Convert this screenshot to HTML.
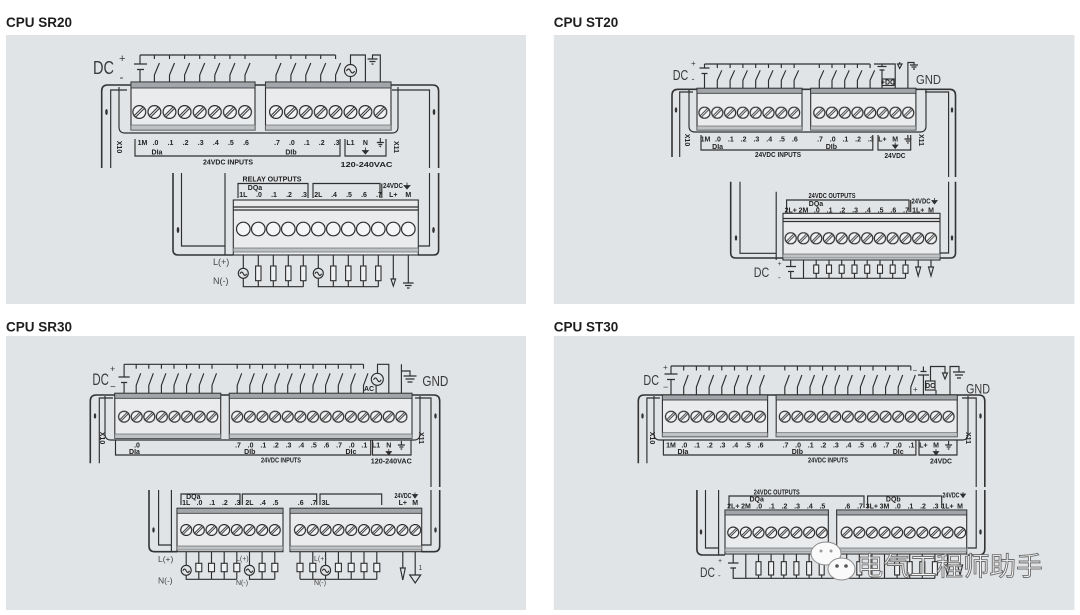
<!DOCTYPE html>
<html><head><meta charset="utf-8"><style>
html,body{margin:0;padding:0;background:#fff;width:1080px;height:615px;overflow:hidden}
svg{display:block}
.ln{fill:none;stroke:#2e2e2e;stroke-width:1.15}
.hs{fill:none;stroke:#333;stroke-width:1.6}
.blk{fill:#e9ebed;stroke:#2e2e2e;stroke-width:1.1}
.band{fill:#a2a6aa;stroke:#2e2e2e;stroke-width:.8}
.bb{fill:#bfc2c5;stroke:#555;stroke-width:.6}
.lb{font-family:"Liberation Sans",sans-serif;font-weight:bold;font-size:7px;text-anchor:middle;fill:#222}
.tt{font-family:"Liberation Sans",sans-serif;font-weight:bold;font-size:13.5px;fill:#1e1e1e}
.big{font-family:"Liberation Sans",sans-serif;fill:#3a3a3a}
.sm{font-family:"Liberation Sans",sans-serif;fill:#444}
.fl{fill:#2e2e2e;stroke:#2e2e2e;stroke-width:.8}
.rs{fill:#eef0f1;stroke:#2e2e2e;stroke-width:1.1}
.mk{fill:#333}
</style></head><body>
<svg width="1080" height="615" viewBox="0 0 1080 615" xmlns="http://www.w3.org/2000/svg">
<defs>
<pattern id="a1" patternUnits="userSpaceOnUse" x="131.75" y="105" width="15.1" height="14"><g transform="translate(7.55,7)"><circle r="6.4" fill="#f2f3f4" stroke="#2a2a2a" stroke-width="1.2"/><path d="M-4.3,4.3L4.3,-4.3" stroke="#2a2a2a" stroke-width="3"/><path d="M-4.1,4.1L4.1,-4.1" stroke="#f2f3f4" stroke-width="1"/></g></pattern>
<pattern id="a2" patternUnits="userSpaceOnUse" x="268.55" y="105" width="14.9" height="14"><g transform="translate(7.45,7)"><circle r="6.4" fill="#f2f3f4" stroke="#2a2a2a" stroke-width="1.2"/><path d="M-4.3,4.3L4.3,-4.3" stroke="#2a2a2a" stroke-width="3"/><path d="M-4.1,4.1L4.1,-4.1" stroke="#f2f3f4" stroke-width="1"/></g></pattern>
<pattern id="b1" patternUnits="userSpaceOnUse" x="698.1" y="106.7" width="12.8" height="12"><g transform="translate(6.4,6)"><circle r="5.6" fill="#f2f3f4" stroke="#2a2a2a" stroke-width="1.15"/><path d="M-3.7,3.7L3.7,-3.7" stroke="#2a2a2a" stroke-width="2.7"/><path d="M-3.5,3.5L3.5,-3.5" stroke="#f2f3f4" stroke-width=".9"/></g></pattern>
<pattern id="b2" patternUnits="userSpaceOnUse" x="812.95" y="106.7" width="12.7" height="12"><g transform="translate(6.35,6)"><circle r="5.6" fill="#f2f3f4" stroke="#2a2a2a" stroke-width="1.15"/><path d="M-3.7,3.7L3.7,-3.7" stroke="#2a2a2a" stroke-width="2.7"/><path d="M-3.5,3.5L3.5,-3.5" stroke="#f2f3f4" stroke-width=".9"/></g></pattern>
<pattern id="b3" patternUnits="userSpaceOnUse" x="784.3" y="232.3" width="12.75" height="12"><g transform="translate(6.375,6)"><circle r="5.6" fill="#f2f3f4" stroke="#2a2a2a" stroke-width="1.15"/><path d="M-3.7,3.7L3.7,-3.7" stroke="#2a2a2a" stroke-width="2.7"/><path d="M-3.5,3.5L3.5,-3.5" stroke="#f2f3f4" stroke-width=".9"/></g></pattern>
<pattern id="c1" patternUnits="userSpaceOnUse" x="117.8" y="410.7" width="12.6" height="12"><g transform="translate(6.3,6)"><circle r="5.5" fill="#f2f3f4" stroke="#2a2a2a" stroke-width="1.15"/><path d="M-3.6,3.6L3.6,-3.6" stroke="#2a2a2a" stroke-width="2.7"/><path d="M-3.4,3.4L3.4,-3.4" stroke="#f2f3f4" stroke-width=".9"/></g></pattern>
<pattern id="c2" patternUnits="userSpaceOnUse" x="230.9" y="410.7" width="12.63" height="12"><g transform="translate(6.315,6)"><circle r="5.5" fill="#f2f3f4" stroke="#2a2a2a" stroke-width="1.15"/><path d="M-3.6,3.6L3.6,-3.6" stroke="#2a2a2a" stroke-width="2.7"/><path d="M-3.4,3.4L3.4,-3.4" stroke="#f2f3f4" stroke-width=".9"/></g></pattern>
<pattern id="c3" patternUnits="userSpaceOnUse" x="179.9" y="524" width="12.65" height="12"><g transform="translate(6.325,6)"><circle r="5.5" fill="#f2f3f4" stroke="#2a2a2a" stroke-width="1.15"/><path d="M-3.6,3.6L3.6,-3.6" stroke="#2a2a2a" stroke-width="2.7"/><path d="M-3.4,3.4L3.4,-3.4" stroke="#f2f3f4" stroke-width=".9"/></g></pattern>
<pattern id="c4" patternUnits="userSpaceOnUse" x="293.6" y="524" width="12.8" height="12"><g transform="translate(6.4,6)"><circle r="5.5" fill="#f2f3f4" stroke="#2a2a2a" stroke-width="1.15"/><path d="M-3.6,3.6L3.6,-3.6" stroke="#2a2a2a" stroke-width="2.7"/><path d="M-3.4,3.4L3.4,-3.4" stroke="#f2f3f4" stroke-width=".9"/></g></pattern>
<pattern id="d1" patternUnits="userSpaceOnUse" x="664.65" y="410.7" width="12.7" height="12"><g transform="translate(6.35,6)"><circle r="5.5" fill="#f2f3f4" stroke="#2a2a2a" stroke-width="1.15"/><path d="M-3.6,3.6L3.6,-3.6" stroke="#2a2a2a" stroke-width="2.7"/><path d="M-3.4,3.4L3.4,-3.4" stroke="#f2f3f4" stroke-width=".9"/></g></pattern>
<pattern id="d2" patternUnits="userSpaceOnUse" x="778.5" y="410.7" width="12.6" height="12"><g transform="translate(6.3,6)"><circle r="5.5" fill="#f2f3f4" stroke="#2a2a2a" stroke-width="1.15"/><path d="M-3.6,3.6L3.6,-3.6" stroke="#2a2a2a" stroke-width="2.7"/><path d="M-3.4,3.4L3.4,-3.4" stroke="#f2f3f4" stroke-width=".9"/></g></pattern>
<pattern id="d3" patternUnits="userSpaceOnUse" x="726.9" y="526.5" width="12.65" height="12"><g transform="translate(6.325,6)"><circle r="5.5" fill="#f2f3f4" stroke="#2a2a2a" stroke-width="1.15"/><path d="M-3.6,3.6L3.6,-3.6" stroke="#2a2a2a" stroke-width="2.7"/><path d="M-3.4,3.4L3.4,-3.4" stroke="#f2f3f4" stroke-width=".9"/></g></pattern>
<pattern id="d4" patternUnits="userSpaceOnUse" x="840.4" y="526.5" width="12.6" height="12"><g transform="translate(6.3,6)"><circle r="5.5" fill="#f2f3f4" stroke="#2a2a2a" stroke-width="1.15"/><path d="M-3.6,3.6L3.6,-3.6" stroke="#2a2a2a" stroke-width="2.7"/><path d="M-3.4,3.4L3.4,-3.4" stroke="#f2f3f4" stroke-width=".9"/></g></pattern>
</defs>

<!-- ================= CPU SR20 ================= -->
<text class="tt" x="6" y="27">CPU SR20</text>
<rect x="6" y="35" width="520" height="269" fill="#e1e4e7"/>
<path class="hs" d="M101.7,168V91Q101.7,85 107.7,85H432.6Q438.6,85 438.6,91V168"/>
<path class="ln" d="M110.7,168V90H127M429.5,168V90H392"/>
<path class="ln" d="M119,87V127Q119,133 125,133H392Q398,133 398,127V87"/>
<ellipse class="mk" cx="106.5" cy="112" rx="1.3" ry="3"/><ellipse class="mk" cx="434" cy="112" rx="1.3" ry="3"/>
<rect class="blk" x="131" y="82" width="124" height="48"/><rect class="band" x="131" y="82" width="124" height="6"/><rect class="bb" x="131" y="125" width="124" height="5"/>
<rect class="blk" x="265.5" y="82" width="125.5" height="48"/><rect class="band" x="265.5" y="82" width="125.5" height="6"/><rect class="bb" x="265.5" y="125" width="125.5" height="5"/>
<rect x="131.75" y="105" width="120.8" height="14" fill="url(#a1)"/>
<rect x="268.55" y="105" width="119.2" height="14" fill="url(#a2)"/>
<text class="big" x="93" y="74" font-size="18" textLength="21" lengthAdjust="spacingAndGlyphs">DC</text>
<text class="big" x="119" y="62" font-size="11">+</text>
<text class="big" x="119.5" y="81" font-size="12">-</text>
<path class="ln" d="M140,55V64M140,69.5V82" />
<path class="ln" stroke-width="1.5" d="M134,64H147M137,69.5H144"/>
<path class="ln" d="M140,55H335.6"/>
<path class="ln" d="M154.4,55v4M154.4,82v-7l5,-12M169.5,55v4M169.5,82v-7l5,-12M184.6,55v4M184.6,82v-7l5,-12M199.7,55v4M199.7,82v-7l5,-12M214.8,55v4M214.8,82v-7l5,-12M229.9,55v4M229.9,82v-7l5,-12M245,55v4M245,82v-7l5,-12M276,55v4M276,82v-7l5,-12M290.9,55v4M290.9,82v-7l5,-12M305.8,55v4M305.8,82v-7l5,-12M320.7,55v4M320.7,82v-7l5,-12M335.6,55v4M335.6,82v-7l5,-12"/>
<path class="ln" d="M350.5,82V76.5M350.5,64.5V55H365.4V82"/>
<circle class="ln" cx="350.5" cy="70.5" r="6"/>
<path class="ln" stroke-width=".8" d="M346.5,71q2,-4 4,0t4,0"/>
<path class="ln" d="M380.3,82V55H372.5V59M367.5,59H377.5M369.5,61.5H375.5M371.5,64H373.5"/>
<text class="lb" x="142.5" y="145">1M</text><text class="lb" x="155.5" y="145">.0</text><text class="lb" x="170.5" y="145">.1</text><text class="lb" x="185.6" y="145">.2</text><text class="lb" x="200.7" y="145">.3</text><text class="lb" x="215.8" y="145">.4</text><text class="lb" x="230.9" y="145">.5</text><text class="lb" x="246" y="145">.6</text>
<text class="lb" x="277" y="145">.7</text><text class="lb" x="291.9" y="145">.0</text><text class="lb" x="306.8" y="145">.1</text><text class="lb" x="321.7" y="145">.2</text><text class="lb" x="336.6" y="145">.3</text><text class="lb" x="350.5" y="145">L1</text><text class="lb" x="365.4" y="145">N</text>
<path class="ln" stroke-width="1.2" d="M380.3,138V142.5M376.8,142.5H383.8M378.3,144.5H382.3M379.5,146.5H381.1"/>
<text class="lb" x="157" y="154.5" font-size="6.5">DIa</text><text class="lb" x="291" y="154.5" font-size="6.5">DIb</text>
<path class="ln" d="M135,139V156H340V139M345,139V156H386V139"/>
<path class="fl" d="M365.4,147.5V150.5M362.4,150.5H368.4L365.4,154Z"/>
<text class="lb" x="228" y="164.5" textLength="50" lengthAdjust="spacingAndGlyphs">24VDC INPUTS</text>
<text class="lb" x="366.5" y="167" font-size="9.5" textLength="52" lengthAdjust="spacingAndGlyphs">120-240VAC</text>
<text class="lb" font-size="6.5" transform="translate(117,147) rotate(90)">X10</text>
<text class="lb" font-size="6.5" transform="translate(394,147) rotate(90)">X11</text>
<!-- lower -->
<path class="hs" d="M173,173V250Q173,255 178,255H233"/>
<path class="ln" d="M181.5,173V246H225M225,173V255"/>
<path class="hs" d="M438.6,173V250Q438.6,255 433.6,255H418"/>
<path class="ln" d="M429.5,173V246H418"/>
<ellipse class="mk" cx="178" cy="230" rx="1.3" ry="3"/><ellipse class="mk" cx="433.5" cy="230" rx="1.3" ry="3"/>
<rect class="blk" x="233.3" y="200" width="185" height="55"/>
<path class="ln" d="M233.3,207H418.3M233.3,210H418.3"/>
<rect class="bb" x="233.3" y="248" width="185" height="4"/>
<g fill="#f5f6f7" stroke="#2e2e2e" stroke-width="1.2">
<circle cx="243.3" cy="229" r="6.8"/><circle cx="258.3" cy="229" r="6.8"/><circle cx="273.3" cy="229" r="6.8"/><circle cx="288.3" cy="229" r="6.8"/><circle cx="303.3" cy="229" r="6.8"/><circle cx="318.3" cy="229" r="6.8"/><circle cx="333.3" cy="229" r="6.8"/><circle cx="348.3" cy="229" r="6.8"/><circle cx="363.3" cy="229" r="6.8"/><circle cx="378.3" cy="229" r="6.8"/><circle cx="393.3" cy="229" r="6.8"/><circle cx="408.3" cy="229" r="6.8"/>
</g>
<text class="lb" x="272" y="181.5" font-size="7.5" textLength="59" lengthAdjust="spacingAndGlyphs">RELAY OUTPUTS</text>
<path class="ln" d="M238,198V183.5H308V198M313,198V183.5H380V198M381.8,198V183.5"/>
<text class="lb" x="255" y="190" font-size="6.5">DQa</text>
<text class="lb" x="393" y="188" font-size="7" textLength="20" lengthAdjust="spacingAndGlyphs">24VDC</text>
<path class="fl" d="M407,182.5V185.5M404,185.5H410L407,189Z"/>
<text class="lb" x="243.3" y="197">1L</text><text class="lb" x="259" y="197">.0</text><text class="lb" x="274" y="197">.1</text><text class="lb" x="289" y="197">.2</text><text class="lb" x="304" y="197">.3</text><text class="lb" x="318.3" y="197">2L</text><text class="lb" x="334" y="197">.4</text><text class="lb" x="349" y="197">.5</text><text class="lb" x="364" y="197">.6</text><text class="lb" x="379" y="197">.7</text><text class="lb" x="393.3" y="197">L+</text><text class="lb" x="408.3" y="197">M</text>
<path class="ln" d="M243.3,255V268.3M243.3,278.3V286.7H303.3M258.3,255V266M258.3,280.7V286.7M273.3,255V266M273.3,280.7V286.7M288.3,255V266M288.3,280.7V286.7M303.3,255V266M303.3,280.7V286.7"/>
<path class="ln" d="M318.3,255V268.3M318.3,278.3V286.7H378.3M333.3,255V266M333.3,280.7V286.7M348.3,255V266M348.3,280.7V286.7M363.3,255V266M363.3,280.7V286.7M378.3,255V266M378.3,280.7V286.7"/>
<g class="rs"><rect x="255.6" y="266" width="5.4" height="14.7"/><rect x="270.6" y="266" width="5.4" height="14.7"/><rect x="285.6" y="266" width="5.4" height="14.7"/><rect x="300.6" y="266" width="5.4" height="14.7"/><rect x="330.6" y="266" width="5.4" height="14.7"/><rect x="345.6" y="266" width="5.4" height="14.7"/><rect x="360.6" y="266" width="5.4" height="14.7"/><rect x="375.6" y="266" width="5.4" height="14.7"/></g>
<circle class="ln" cx="243.3" cy="273.3" r="5"/><circle class="ln" cx="318.3" cy="273.3" r="5"/>
<path class="ln" stroke-width=".8" d="M240,273.8q1.6,-3.4 3.3,0t3.3,0M315,273.8q1.6,-3.4 3.3,0t3.3,0"/>
<path class="ln" d="M393.3,255V279M391,279H395.6L393.3,286ZM408.3,255V283M403,283H413.6M405,285.5H411.6M407,288H409.6"/>
<text class="sm" x="213" y="265" font-size="9">L(+)</text>
<text class="sm" x="213" y="284" font-size="9">N(-)</text>

<!-- ================= CPU ST20 ================= -->
<text class="tt" x="553.8" y="27">CPU ST20</text>
<rect x="553.8" y="35" width="520.7" height="269" fill="#e1e4e7"/>
<path class="hs" d="M672,157V95.3Q672,89.3 678,89.3H949.5Q955.5,89.3 955.5,95.3V177"/>
<path class="ln" d="M679.7,157V92H693M948.6,177V92H925"/>
<path class="ln" d="M689,90V126Q689,132 695,132H920Q926,132 926,126V90"/>
<ellipse class="mk" cx="676" cy="110" rx="1.2" ry="2.6"/><ellipse class="mk" cx="952" cy="110" rx="1.2" ry="2.6"/>
<rect class="blk" x="697" y="88.3" width="105" height="41.7"/><rect class="band" x="697" y="88.3" width="105" height="5"/><rect class="bb" x="697" y="126" width="105" height="4"/>
<rect class="blk" x="810.7" y="88.3" width="105.2" height="41.7"/><rect class="band" x="810.7" y="88.3" width="105.2" height="5"/><rect class="bb" x="810.7" y="126" width="105.2" height="4"/>
<rect x="698.1" y="106.7" width="102.4" height="12" fill="url(#b1)"/>
<rect x="812.95" y="106.7" width="101.6" height="12" fill="url(#b2)"/>
<text class="big" x="672.8" y="80" font-size="15" textLength="15.5" lengthAdjust="spacingAndGlyphs">DC</text>
<text class="big" x="691" y="66" font-size="8">+</text>
<text class="big" x="691.5" y="82" font-size="9">-</text>
<path class="ln" d="M704.5,64V68M704.5,73.5V88.3"/>
<path class="ln" stroke-width="1.4" d="M699.5,68H709.5M701.5,73.5H707.5"/>
<path class="ln" d="M704.5,64H870.1"/>
<path class="ln" d="M717.3,64v4M717.3,88.3v-8l4.5,-10M730.1,64v4M730.1,88.3v-8l4.5,-10M742.9,64v4M742.9,88.3v-8l4.5,-10M755.7,64v4M755.7,88.3v-8l4.5,-10M768.5,64v4M768.5,88.3v-8l4.5,-10M781.3,64v4M781.3,88.3v-8l4.5,-10M794.1,64v4M794.1,88.3v-8l4.5,-10M819.3,64v4M819.3,88.3v-8l4.5,-10M832,64v4M832,88.3v-8l4.5,-10M844.7,64v4M844.7,88.3v-8l4.5,-10M857.4,64v4M857.4,88.3v-8l4.5,-10M870.1,64v4M870.1,88.3v-8l4.5,-10"/>
<path class="ln" d="M874,64H895.2V88.3M882,70V88.3M882,66.5V64"/>
<path class="ln" stroke-width="1.2" d="M877.5,66.5H886.5M879.5,70H884.5"/>
<rect class="ln" x="882" y="79" width="12" height="6.5" stroke-width=".7"/>
<text class="lb" x="888" y="84.5" font-size="4.5">+DC</text>
<path class="ln" d="M897.5,64H902L899.7,68.5ZM899.7,62V64M907.9,88.3V62.5H914V65M910,65H918M911.5,67H916.5M913,69H915"/>
<text class="big" x="916" y="84" font-size="13" textLength="25" lengthAdjust="spacingAndGlyphs">GND</text>
<text class="lb" x="705.5" y="141.5" font-size="6.5">1M</text><text class="lb" x="718" y="141.5" font-size="6.5">.0</text><text class="lb" x="730.8" y="141.5" font-size="6.5">.1</text><text class="lb" x="743.6" y="141.5" font-size="6.5">.2</text><text class="lb" x="756.4" y="141.5" font-size="6.5">.3</text><text class="lb" x="769.2" y="141.5" font-size="6.5">.4</text><text class="lb" x="782" y="141.5" font-size="6.5">.5</text><text class="lb" x="794.8" y="141.5" font-size="6.5">.6</text>
<text class="lb" x="820" y="141.5" font-size="6.5">.7</text><text class="lb" x="832.7" y="141.5" font-size="6.5">.0</text><text class="lb" x="845.4" y="141.5" font-size="6.5">.1</text><text class="lb" x="858.1" y="141.5" font-size="6.5">.2</text><text class="lb" x="870.8" y="141.5" font-size="6.5">.3</text><text class="lb" x="882.4" y="141.5" font-size="6.5">L+</text><text class="lb" x="895.2" y="141.5" font-size="6.5">M</text>
<path class="ln" stroke-width="1.1" d="M907.9,135V139M904.4,139H911.4M905.9,141H909.9M907.1,143H908.7"/>
<text class="lb" x="717.6" y="149" font-size="6">DIa</text><text class="lb" x="831.4" y="149" font-size="6">DIb</text>
<path class="ln" d="M701,135V150H872.8V135M878,135V150H910.7V135"/>
<path class="fl" d="M895.2,142.5V145M892.5,145H897.9L895.2,148.5Z"/>
<text class="lb" x="778" y="157" textLength="46" lengthAdjust="spacingAndGlyphs">24VDC INPUTS</text>
<text class="lb" x="895" y="158" font-size="8.5" textLength="21" lengthAdjust="spacingAndGlyphs">24VDC</text>
<text class="lb" font-size="6" transform="translate(685,140) rotate(90)">X10</text>
<text class="lb" font-size="6" transform="translate(919,140) rotate(90)">X11</text>
<!-- lower -->
<path class="hs" d="M730.7,181.7V253Q730.7,258 735.7,258H783"/>
<path class="ln" d="M740,181.7V253.3H776.2M776.2,191.7V260"/>
<path class="hs" d="M955.5,181.7V253Q955.5,258 950.5,258H940"/>
<path class="ln" d="M948.6,181.7V253H940"/>
<ellipse class="mk" cx="736" cy="238" rx="1.2" ry="2.6"/><ellipse class="mk" cx="952" cy="238" rx="1.2" ry="2.6"/>
<rect class="blk" x="783" y="213.3" width="157" height="46.7"/>
<path class="ln" d="M783,218.5H940M783,221.5H940"/>
<rect class="bb" x="783" y="254" width="157" height="4"/>
<rect x="784.3" y="232.3" width="153" height="12" fill="url(#b3)"/>
<text class="lb" x="832" y="198" textLength="47" lengthAdjust="spacingAndGlyphs">24VDC OUTPUTS</text>
<path class="ln" d="M786.6,212V200H909V212M910.7,212V200"/>
<text class="lb" x="816" y="206" font-size="6">DQa</text>
<text class="lb" x="921" y="203.5" font-size="6.5" textLength="19" lengthAdjust="spacingAndGlyphs">24VDC</text>
<path class="fl" d="M934.5,198V200.5M931.8,200.5H937.2L934.5,204Z"/>
<text class="lb" x="790.7" y="212.5" font-size="6">2L+</text><text class="lb" x="803.5" y="212.5" font-size="6">2M</text><text class="lb" x="816.8" y="212.5" font-size="6">.0</text><text class="lb" x="829.6" y="212.5" font-size="6">.1</text><text class="lb" x="842.3" y="212.5" font-size="6">.2</text><text class="lb" x="855.1" y="212.5" font-size="6">.3</text><text class="lb" x="867.8" y="212.5" font-size="6">.4</text><text class="lb" x="880.6" y="212.5" font-size="6">.5</text><text class="lb" x="893.3" y="212.5" font-size="6">.6</text><text class="lb" x="906.1" y="212.5" font-size="6">.7</text><text class="lb" x="918.2" y="212.5" font-size="6">1L+</text><text class="lb" x="931" y="212.5" font-size="6">M</text>
<text class="big" x="753.8" y="277" font-size="14" textLength="15.5" lengthAdjust="spacingAndGlyphs">DC</text>
<text class="big" x="777.5" y="266" font-size="7">+</text>
<text class="big" x="778" y="280" font-size="8">-</text>
<path class="ln" d="M790.7,260V266.5M790.7,271.5V278.3H905.5M803.5,260V278.3"/>
<path class="ln" stroke-width="1.3" d="M786,266.5H796M788,271.5H794"/>
<path class="ln" d="M816.2,260v5M816.2,273.3V278.3M829,260v5M829,273.3V278.3M841.7,260v5M841.7,273.3V278.3M854.5,260v5M854.5,273.3V278.3M867.2,260v5M867.2,273.3V278.3M880,260v5M880,273.3V278.3M892.7,260v5M892.7,273.3V278.3M905.5,260v5M905.5,273.3V278.3"/>
<g class="rs"><rect x="813.7" y="265" width="5" height="8.3"/><rect x="826.5" y="265" width="5" height="8.3"/><rect x="839.2" y="265" width="5" height="8.3"/><rect x="852" y="265" width="5" height="8.3"/><rect x="864.7" y="265" width="5" height="8.3"/><rect x="877.5" y="265" width="5" height="8.3"/><rect x="890.2" y="265" width="5" height="8.3"/><rect x="903" y="265" width="5" height="8.3"/></g>
<path class="ln" d="M918.2,260V267M915.7,267H920.7L918.2,276ZM931,260V267M928.5,267H933.5L931,276Z"/>

<!-- ================= CPU SR30 ================= -->
<text class="tt" x="6" y="331.5">CPU SR30</text>
<rect x="6" y="336" width="520" height="274" fill="#e1e4e7"/>
<path class="hs" d="M90.3,463.3V401Q90.3,395 96.3,395H433.7Q439.7,395 439.7,401V487"/>
<path class="ln" d="M99.3,463.3V398H113M431,487V398H415"/>
<path class="ln" d="M105,396V434Q105,440 111,440H414Q420,440 420,434V396"/>
<ellipse class="mk" cx="95" cy="416" rx="1.2" ry="2.6"/><ellipse class="mk" cx="435.5" cy="416" rx="1.2" ry="2.6"/>
<rect class="blk" x="114.8" y="393.3" width="105.9" height="45"/><rect class="band" x="114.8" y="393.3" width="105.9" height="5"/><rect class="bb" x="114.8" y="434" width="105.9" height="4.3"/>
<rect class="blk" x="229.3" y="393.3" width="182.7" height="45"/><rect class="band" x="229.3" y="393.3" width="182.7" height="5"/><rect class="bb" x="229.3" y="434" width="182.7" height="4.3"/>
<rect x="117.8" y="410.7" width="100.8" height="12" fill="url(#c1)"/>
<rect x="230.9" y="410.7" width="176.8" height="12" fill="url(#c2)"/>
<text class="big" x="92.4" y="385" font-size="17" textLength="16.5" lengthAdjust="spacingAndGlyphs">DC</text>
<text class="big" x="110" y="372" font-size="9">+</text>
<text class="big" x="110" y="390" font-size="10">−</text>
<path class="ln" d="M124.1,364.3V377M124.1,382.5V393.3"/>
<path class="ln" stroke-width="1.4" d="M118.5,377H129.7M121,382.5H127.2"/>
<path class="ln" d="M124.1,364.3H363.5"/>
<path class="ln" d="M136.2,364.3v4.5M136.2,393.3v-8l4.5,-12M148.8,364.3v4.5M148.8,393.3v-8l4.5,-12M161.4,364.3v4.5M161.4,393.3v-8l4.5,-12M174,364.3v4.5M174,393.3v-8l4.5,-12M186.6,364.3v4.5M186.6,393.3v-8l4.5,-12M199.3,364.3v4.5M199.3,393.3v-8l4.5,-12M212,364.3v4.5M212,393.3v-8l4.5,-12M237.2,364.3v4.5M237.2,393.3v-8l4.5,-12M249.8,364.3v4.5M249.8,393.3v-8l4.5,-12M262.5,364.3v4.5M262.5,393.3v-8l4.5,-12M275.1,364.3v4.5M275.1,393.3v-8l4.5,-12M287.7,364.3v4.5M287.7,393.3v-8l4.5,-12M300.4,364.3v4.5M300.4,393.3v-8l4.5,-12M313,364.3v4.5M313,393.3v-8l4.5,-12M325.6,364.3v4.5M325.6,393.3v-8l4.5,-12M338.3,364.3v4.5M338.3,393.3v-8l4.5,-12M350.9,364.3v4.5M350.9,393.3v-8l4.5,-12M363.5,364.3v4.5M363.5,393.3v-8l4.5,-12"/>
<path class="ln" d="M376.1,393.3V385.3M377.5,373.3V364.3H388.8V393.3"/>
<circle class="ln" cx="377.3" cy="379.3" r="6"/>
<path class="ln" stroke-width=".8" d="M373.5,379.8q1.9,-3.8 3.8,0t3.8,0"/>
<text class="lb" x="369" y="391" font-size="5">AC</text>
<path class="ln" d="M401.4,393.3V364.3M401.4,371H410V376M403.5,376H416.5M405.5,379H414.5M407.5,382H412.5"/>
<text class="big" x="422.4" y="386" font-size="15" textLength="26" lengthAdjust="spacingAndGlyphs">GND</text>
<text class="lb" x="137" y="447.5" font-size="6.5">.0</text>
<text class="lb" x="238" y="447.5" font-size="6.5">.7</text><text class="lb" x="250.6" y="447.5" font-size="6.5">.0</text><text class="lb" x="263.3" y="447.5" font-size="6.5">.1</text><text class="lb" x="275.9" y="447.5" font-size="6.5">.2</text><text class="lb" x="288.5" y="447.5" font-size="6.5">.3</text><text class="lb" x="301.2" y="447.5" font-size="6.5">.4</text><text class="lb" x="313.8" y="447.5" font-size="6.5">.5</text><text class="lb" x="326.4" y="447.5" font-size="6.5">.6</text><text class="lb" x="339.1" y="447.5" font-size="6.5">.7</text><text class="lb" x="351.7" y="447.5" font-size="6.5">.0</text><text class="lb" x="364.3" y="447.5" font-size="6.5">.1</text><text class="lb" x="376.1" y="447.5" font-size="6.5">L1</text><text class="lb" x="388.8" y="447.5" font-size="6.5">N</text>
<path class="ln" stroke-width="1.1" d="M401.4,441V445M397.9,445H404.9M399.4,447H403.4M400.6,449H402.2"/>
<text class="lb" x="134.5" y="454" font-size="6">DIa</text><text class="lb" x="249.8" y="454" font-size="6">DIb</text><text class="lb" x="350.9" y="454" font-size="6">DIc</text>
<path class="ln" d="M115.5,440V455H370.7V440M372.5,440V455H411V440"/>
<path class="fl" d="M388.8,449V451.5M386.1,451.5H391.5L388.8,455Z"/>
<text class="lb" x="281" y="462.5" font-size="6.5" textLength="40" lengthAdjust="spacingAndGlyphs">24VDC INPUTS</text>
<text class="lb" x="391.3" y="463.5" font-size="8" textLength="41" lengthAdjust="spacingAndGlyphs">120-240VAC</text>
<text class="lb" font-size="5.5" transform="translate(100,438) rotate(90)">X10</text>
<text class="lb" font-size="5.5" transform="translate(419,438) rotate(90)">X11</text>
<!-- lower -->
<path class="hs" d="M149,490V546Q149,551.7 154.7,551.7H177"/>
<path class="ln" d="M158.6,490V545H171.4M171.4,490V551.7"/>
<path class="hs" d="M439.7,490V546Q439.7,551.7 434,551.7H421.7"/>
<path class="ln" d="M431,490V545H421.7"/>
<ellipse class="mk" cx="153.5" cy="530" rx="1.2" ry="2.6"/><ellipse class="mk" cx="435.5" cy="530" rx="1.2" ry="2.6"/>
<rect class="blk" x="177" y="508.3" width="106" height="43.4"/><rect class="band" x="177" y="508.3" width="106" height="5"/><rect class="bb" x="177" y="546" width="106" height="4"/>
<rect class="blk" x="290" y="508.3" width="131.7" height="43.4"/><rect class="band" x="290" y="508.3" width="131.7" height="5"/><rect class="bb" x="290" y="546" width="131.7" height="4"/>
<rect x="179.9" y="524" width="101.2" height="12" fill="url(#c3)"/>
<rect x="293.6" y="524" width="128" height="12" fill="url(#c4)"/>
<path class="ln" d="M181,505V494H240V505M242.3,505V494H316.7V505M320,505V494H381.7V505"/>
<text class="lb" x="193.3" y="499" font-size="6">DQa</text>
<text class="lb" x="403" y="498" font-size="6" textLength="17" lengthAdjust="spacingAndGlyphs">24VDC</text>
<path class="fl" d="M415,492.5V494.5M412.5,494.5H417.5L415,498Z"/>
<text class="lb" x="186.2" y="505" font-size="6">1L</text><text class="lb" x="199.5" y="505" font-size="6">.0</text><text class="lb" x="212.2" y="505" font-size="6">.1</text><text class="lb" x="224.9" y="505" font-size="6">.2</text><text class="lb" x="237.5" y="505" font-size="6">.3</text><text class="lb" x="249.5" y="505" font-size="6">2L</text><text class="lb" x="262.8" y="505" font-size="6">.4</text><text class="lb" x="275.5" y="505" font-size="6">.5</text><text class="lb" x="300.7" y="505" font-size="6">.6</text><text class="lb" x="313.5" y="505" font-size="6">.7</text><text class="lb" x="325.6" y="505" font-size="6">3L</text><text class="lb" x="402.8" y="505" font-size="6">L+</text><text class="lb" x="415.2" y="505" font-size="6">M</text>
<path class="ln" d="M186.2,551.7V565.3M186.2,575.3V579.3H236.8M198.8,551.7V563.3M198.8,571.7V579.3M211.5,551.7V563.3M211.5,571.7V579.3M224.2,551.7V563.3M224.2,571.7V579.3M236.8,551.7V563.3M236.8,571.7V579.3"/>
<path class="ln" d="M249.5,551.7V565.3M249.5,575.3V579.3H274.8M262.1,551.7V563.3M262.1,571.7V579.3M274.8,551.7V563.3M274.8,571.7V579.3"/>
<path class="ln" d="M325.6,551.7V565.3M325.6,575.3V579.3M300,579.3H376.8M300,551.7V563.3M300,571.7V579.3M312.8,551.7V563.3M312.8,571.7V579.3M338.4,551.7V563.3M338.4,571.7V579.3M351.2,551.7V563.3M351.2,571.7V579.3M364,551.7V563.3M364,571.7V579.3M376.8,551.7V563.3M376.8,571.7V579.3"/>
<g class="rs"><rect x="195.8" y="563.3" width="6" height="8.4"/><rect x="208.5" y="563.3" width="6" height="8.4"/><rect x="221.2" y="563.3" width="6" height="8.4"/><rect x="233.8" y="563.3" width="6" height="8.4"/><rect x="259.1" y="563.3" width="6" height="8.4"/><rect x="271.8" y="563.3" width="6" height="8.4"/><rect x="297" y="563.3" width="6" height="8.4"/><rect x="309.8" y="563.3" width="6" height="8.4"/><rect x="335.4" y="563.3" width="6" height="8.4"/><rect x="348.2" y="563.3" width="6" height="8.4"/><rect x="361" y="563.3" width="6" height="8.4"/><rect x="373.8" y="563.3" width="6" height="8.4"/></g>
<circle class="ln" cx="186.2" cy="570.3" r="5"/><circle class="ln" cx="249.5" cy="570.3" r="5"/><circle class="ln" cx="325.6" cy="570.3" r="5"/>
<path class="ln" stroke-width=".8" d="M182.9,570.8q1.6,-3.4 3.3,0t3.3,0M246.2,570.8q1.6,-3.4 3.3,0t3.3,0M322.3,570.8q1.6,-3.4 3.3,0t3.3,0"/>
<text class="sm" x="158" y="562" font-size="8.5">L(+)</text>
<text class="sm" x="158" y="583.5" font-size="8.5">N(-)</text>
<text class="sm" x="236" y="561" font-size="7">L(+)</text>
<text class="sm" x="236" y="585" font-size="7">N(-)</text>
<text class="sm" x="314" y="561" font-size="7">L(+)</text>
<text class="sm" x="314" y="585" font-size="7">N(-)</text>
<path class="ln" d="M402.8,551.7V568M400.3,568H405.3L402.8,580ZM415.2,551.7V575M409.7,575H420.7L415.2,583Z"/>
<text class="sm" x="418.5" y="570" font-size="7">1</text>

<!-- ================= CPU ST30 ================= -->
<text class="tt" x="553.8" y="331.5">CPU ST30</text>
<rect x="553.8" y="336" width="520.7" height="274" fill="#e1e4e7"/>
<path class="hs" d="M638.3,463.3V401Q638.3,395 644.3,395H978.8Q984.8,395 984.8,401V487"/>
<path class="ln" d="M646.9,463.3V398H660M976.2,487V398H962"/>
<path class="ln" d="M654,396V434Q654,440 660,440H962Q968,440 968,434V396"/>
<ellipse class="mk" cx="642.5" cy="416" rx="1.2" ry="2.6"/><ellipse class="mk" cx="980.5" cy="416" rx="1.2" ry="2.6"/>
<rect class="blk" x="662.4" y="395" width="105.2" height="41.7"/><rect class="band" x="662.4" y="395" width="105.2" height="5"/><rect class="bb" x="662.4" y="432.7" width="105.2" height="4"/>
<rect class="blk" x="776.2" y="395" width="181" height="41.7"/><rect class="band" x="776.2" y="395" width="181" height="5"/><rect class="bb" x="776.2" y="432.7" width="181" height="4"/>
<rect x="664.65" y="410.7" width="101.6" height="12" fill="url(#d1)"/>
<rect x="778.5" y="410.7" width="176.4" height="12" fill="url(#d2)"/>
<text class="big" x="643.4" y="385" font-size="15" textLength="15.6" lengthAdjust="spacingAndGlyphs">DC</text>
<text class="big" x="663" y="370" font-size="8">+</text>
<text class="big" x="663" y="390" font-size="9">−</text>
<path class="ln" d="M671,366V374M671,379.5V395"/>
<path class="ln" stroke-width="1.4" d="M664.5,374H677.5M667,379.5H675"/>
<path class="ln" d="M671,366H910.8"/>
<path class="ln" d="M683.7,366v4.5M683.7,395v-8l4.5,-12M696.4,366v4.5M696.4,395v-8l4.5,-12M709.1,366v4.5M709.1,395v-8l4.5,-12M721.8,366v4.5M721.8,395v-8l4.5,-12M734.5,366v4.5M734.5,395v-8l4.5,-12M747.2,366v4.5M747.2,395v-8l4.5,-12M759.9,366v4.5M759.9,395v-8l4.5,-12M784.8,366v4.5M784.8,395v-8l4.5,-12M797.4,366v4.5M797.4,395v-8l4.5,-12M810,366v4.5M810,395v-8l4.5,-12M822.6,366v4.5M822.6,395v-8l4.5,-12M835.2,366v4.5M835.2,395v-8l4.5,-12M847.8,366v4.5M847.8,395v-8l4.5,-12M860.4,366v4.5M860.4,395v-8l4.5,-12M873,366v4.5M873,395v-8l4.5,-12M885.6,366v4.5M885.6,395v-8l4.5,-12M898.2,366v4.5M898.2,395v-8l4.5,-12M910.8,366v4.5M910.8,395v-8l4.5,-12"/>
<text class="big" x="912.5" y="373" font-size="8">−</text>
<text class="big" x="913" y="392" font-size="8">+</text>
<path class="ln" d="M923.4,395V375M923.4,371.5V366.5"/>
<path class="ln" stroke-width="1.3" d="M918,375H929M920.5,371.5H926.5"/>
<rect class="ln" x="925.5" y="381" width="9.5" height="9" stroke-width=".7"/>
<text class="lb" x="930.2" y="388" font-size="5.5">DC</text>
<path class="ln" d="M930.5,381V366.5H945V373M942.5,373H947.5L945,379ZM936,395V390M950,395V366.5H959V372M953,372H965M955,375H963M957,378H961"/>
<text class="big" x="966" y="393.3" font-size="14" textLength="24" lengthAdjust="spacingAndGlyphs">GND</text>
<text class="lb" x="671" y="447.5" font-size="6.5">1M</text><text class="lb" x="684.4" y="447.5" font-size="6.5">.0</text><text class="lb" x="697.1" y="447.5" font-size="6.5">.1</text><text class="lb" x="709.8" y="447.5" font-size="6.5">.2</text><text class="lb" x="722.5" y="447.5" font-size="6.5">.3</text><text class="lb" x="735.2" y="447.5" font-size="6.5">.4</text><text class="lb" x="747.9" y="447.5" font-size="6.5">.5</text><text class="lb" x="760.6" y="447.5" font-size="6.5">.6</text>
<text class="lb" x="785.5" y="447.5" font-size="6.5">.7</text><text class="lb" x="798.1" y="447.5" font-size="6.5">.0</text><text class="lb" x="810.7" y="447.5" font-size="6.5">.1</text><text class="lb" x="823.3" y="447.5" font-size="6.5">.2</text><text class="lb" x="835.9" y="447.5" font-size="6.5">.3</text><text class="lb" x="848.5" y="447.5" font-size="6.5">.4</text><text class="lb" x="861.1" y="447.5" font-size="6.5">.5</text><text class="lb" x="873.7" y="447.5" font-size="6.5">.6</text><text class="lb" x="886.3" y="447.5" font-size="6.5">.7</text><text class="lb" x="898.9" y="447.5" font-size="6.5">.0</text><text class="lb" x="911.5" y="447.5" font-size="6.5">.1</text><text class="lb" x="923.4" y="447.5" font-size="6.5">L+</text><text class="lb" x="936" y="447.5" font-size="6.5">M</text>
<path class="ln" stroke-width="1.1" d="M948.6,441V445M945.1,445H952.1M946.6,447H950.6M947.8,449H949.4"/>
<text class="lb" x="683" y="454" font-size="6">DIa</text><text class="lb" x="797.4" y="454" font-size="6">DIb</text><text class="lb" x="898.2" y="454" font-size="6">DIc</text>
<path class="ln" d="M663.4,440V455H915.9V440M919,440V455H957V440"/>
<path class="fl" d="M936,449V451.5M933.3,451.5H938.7L936,455Z"/>
<text class="lb" x="828" y="462.5" font-size="6.5" textLength="40" lengthAdjust="spacingAndGlyphs">24VDC INPUTS</text>
<text class="lb" x="941" y="463.5" font-size="8" textLength="22" lengthAdjust="spacingAndGlyphs">24VDC</text>
<text class="lb" font-size="5.5" transform="translate(650,438) rotate(90)">X10</text>
<text class="lb" font-size="5.5" transform="translate(966,438) rotate(90)">X11</text>
<!-- lower -->
<path class="hs" d="M696.9,490V549Q696.9,555 702.9,555H725"/>
<path class="ln" d="M705.5,490V548H718.6M718.6,490V555"/>
<path class="hs" d="M984.8,490V549Q984.8,555 978.8,555H967.6"/>
<path class="ln" d="M976.2,490V548H967.6"/>
<ellipse class="mk" cx="701" cy="532" rx="1.2" ry="2.6"/><ellipse class="mk" cx="980.5" cy="532" rx="1.2" ry="2.6"/>
<rect class="blk" x="725" y="510" width="103.3" height="44"/><rect class="band" x="725" y="510" width="103.3" height="5"/><rect class="bb" x="725" y="548" width="103.3" height="4"/>
<rect class="blk" x="836.7" y="510" width="130" height="44"/><rect class="band" x="836.7" y="510" width="130" height="5"/><rect class="bb" x="836.7" y="548" width="130" height="4"/>
<rect x="726.9" y="526.5" width="101.2" height="12" fill="url(#d3)"/>
<rect x="840.4" y="526.5" width="126" height="12" fill="url(#d4)"/>
<text class="lb" x="776.7" y="494.5" font-size="6.5" textLength="46" lengthAdjust="spacingAndGlyphs">24VDC OUTPUTS</text>
<path class="ln" d="M729,508V496H864V508M867.6,508V496H941.7V508"/>
<text class="lb" x="756.7" y="501.5" font-size="5.5">DQa</text>
<text class="lb" x="893.3" y="501.5" font-size="5.5">DQb</text>
<text class="lb" x="951" y="497.5" font-size="6" textLength="17" lengthAdjust="spacingAndGlyphs">24VDC</text>
<path class="fl" d="M963,492V494M960.5,494H965.5L963,497.5Z"/>
<text class="lb" x="733.3" y="508.5" font-size="5.8">2L+</text><text class="lb" x="746" y="508.5" font-size="5.8">2M</text><text class="lb" x="759.2" y="508.5" font-size="5.8">.0</text><text class="lb" x="771.8" y="508.5" font-size="5.8">.1</text><text class="lb" x="784.5" y="508.5" font-size="5.8">.2</text><text class="lb" x="797.1" y="508.5" font-size="5.8">.3</text><text class="lb" x="809.8" y="508.5" font-size="5.8">.4</text><text class="lb" x="822.4" y="508.5" font-size="5.8">.5</text><text class="lb" x="847.4" y="508.5" font-size="5.8">.6</text><text class="lb" x="860" y="508.5" font-size="5.8">.7</text><text class="lb" x="871.9" y="508.5" font-size="5.8">3L+</text><text class="lb" x="884.5" y="508.5" font-size="5.8">3M</text><text class="lb" x="897.8" y="508.5" font-size="5.8">.0</text><text class="lb" x="910.4" y="508.5" font-size="5.8">.1</text><text class="lb" x="923" y="508.5" font-size="5.8">.2</text><text class="lb" x="935.6" y="508.5" font-size="5.8">.3</text><text class="lb" x="947.5" y="508.5" font-size="5.8">1L+</text><text class="lb" x="960.1" y="508.5" font-size="5.8">M</text>
<text class="big" x="700" y="577" font-size="14" textLength="15" lengthAdjust="spacingAndGlyphs">DC</text>
<text class="big" x="718" y="563" font-size="7">+</text>
<text class="big" x="718" y="578" font-size="8">-</text>
<path class="ln" d="M733.2,554V563M733.2,568V578.3H935M745.8,554V578.3"/>
<path class="ln" stroke-width="1.3" d="M728,563H738.5M730.3,568H736"/>
<path class="ln" d="M758.5,554V561.7M758.5,575V578.3M771.1,554V561.7M771.1,575V578.3M783.8,554V561.7M783.8,575V578.3M796.4,554V561.7M796.4,575V578.3M809.1,554V561.7M809.1,575V578.3M821.7,554V561.7M821.7,575V578.3M846.7,554V561.7M846.7,575V578.3M859.3,554V561.7M859.3,575V578.3M871.9,554V578.3M884.5,554V578.3M897.1,554V561.7M897.1,575V578.3M909.7,554V561.7M909.7,575V578.3M922.3,554V561.7M922.3,575V578.3M934.9,554V561.7M934.9,575V578.3"/>
<g class="rs"><rect x="756" y="561.7" width="5" height="13.3"/><rect x="768.6" y="561.7" width="5" height="13.3"/><rect x="781.3" y="561.7" width="5" height="13.3"/><rect x="793.9" y="561.7" width="5" height="13.3"/><rect x="806.6" y="561.7" width="5" height="13.3"/><rect x="819.2" y="561.7" width="5" height="13.3"/><rect x="844.2" y="561.7" width="5" height="13.3"/><rect x="856.8" y="561.7" width="5" height="13.3"/><rect x="894.6" y="561.7" width="5" height="13.3"/><rect x="907.2" y="561.7" width="5" height="13.3"/><rect x="919.8" y="561.7" width="5" height="13.3"/><rect x="932.4" y="561.7" width="5" height="13.3"/></g>
<path class="ln" d="M947.5,554V565M945,565H950L947.5,575ZM960.1,554V565M957.6,565H962.6L960.1,575Z"/>

<!-- watermark -->
<ellipse cx="826" cy="553.5" rx="15" ry="11.5" fill="#fafafa" stroke="#8c8c8c" stroke-width="1"/>
<ellipse cx="841.5" cy="569" rx="13.5" ry="11" fill="#fafafa" stroke="#8c8c8c" stroke-width="1"/>
<circle cx="821" cy="551" r="1.5" fill="#9a9a9a"/><circle cx="831" cy="551" r="1.5" fill="#9a9a9a"/>
<circle cx="837" cy="566" r="1.8" fill="#555"/><circle cx="846" cy="566" r="1.8" fill="#555"/>
<text x="856.7" y="575.5" font-family="'Liberation Sans','Noto Sans CJK SC',sans-serif" font-size="26" fill="#f6f6f6" stroke="#6e6e6e" stroke-width="0.9" textLength="186" lengthAdjust="spacingAndGlyphs">电气工程师助手</text>
</svg>
</body></html>
